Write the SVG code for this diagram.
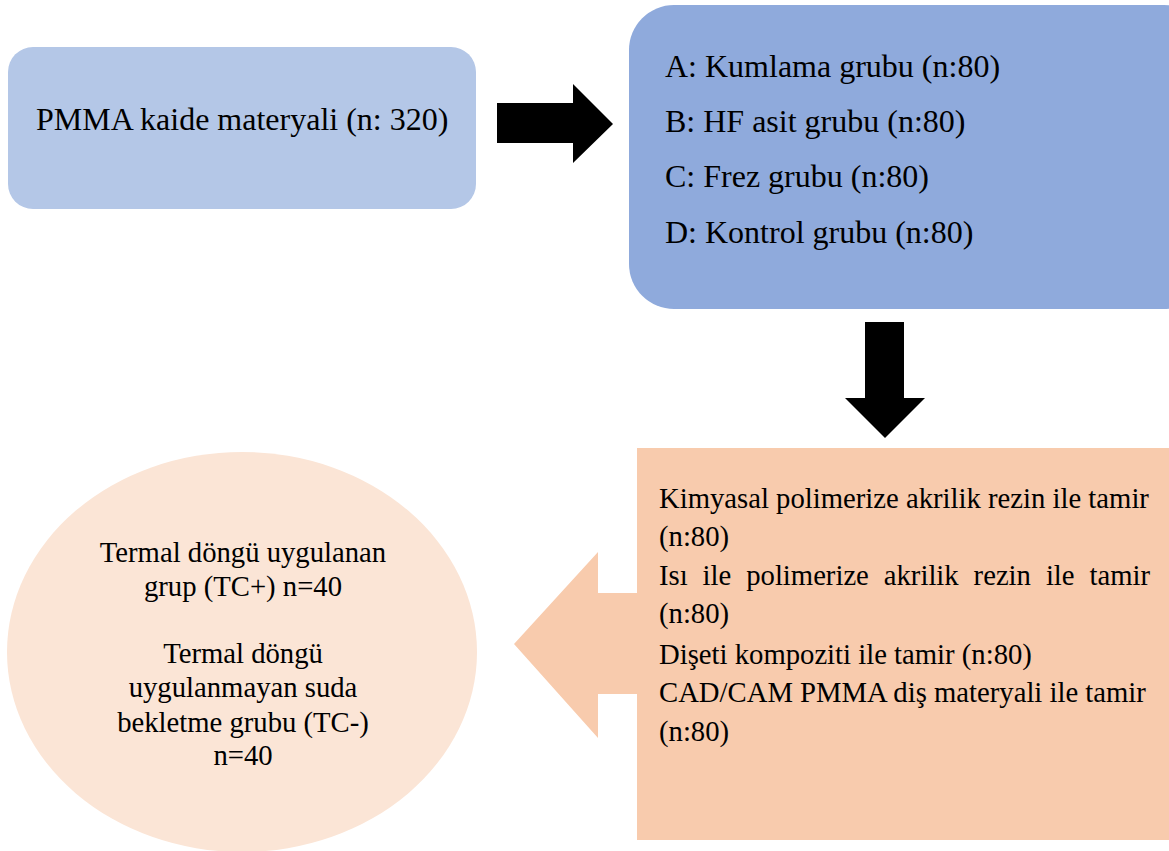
<svg xmlns="http://www.w3.org/2000/svg" width="1169" height="851" viewBox="0 0 1169 851">
<style>
text{font-family:"Liberation Serif","Times New Roman",serif;fill:#000}
.t32{font-size:32px}
.t29{font-size:28.7px}
.arrow{fill:#000}
</style>
<rect width="1169" height="851" fill="#fff"/>
<g id="connectors">
<polygon class="arrow" points="497,103 573,103 573,84 613,124 573,163 573,143 497,143"/>
<polygon class="arrow" points="865,322 904,322 904,398 925,398 885,438 845,398 865,398"/>
</g>
<g id="node-pmma">
<rect x="8" y="47" width="468" height="162" rx="25" ry="25" fill="#b4c7e7"/>
<text class="t32" x="36" y="130">PMMA kaide materyali (n: 320)</text>
</g>
<g id="node-groups">
<rect x="629" y="5" width="580" height="304" rx="45" ry="45" fill="#8faadc"/>
<text class="t32" x="665" y="77">A: Kumlama grubu (n:80)</text>
<text class="t32" x="665" y="132">B: HF asit grubu (n:80)</text>
<text class="t32" x="665" y="187">C: Frez grubu (n:80)</text>
<text class="t32" x="665" y="243">D: Kontrol grubu (n:80)</text>
</g>
<g id="node-repair">
<polygon points="637,448 1169,448 1169,840 637,840 637,694 598,694 598,738 514,644 598,552 598,593 637,593" fill="#f8cbad"/>
<text class="t29" x="659" y="508">Kimyasal polimerize akrilik rezin ile tamir</text>
<text class="t29" x="659" y="546">(n:80)</text>
<text class="t29" y="585"><tspan x="659">Isı</tspan><tspan x="702.6">ile</tspan><tspan x="746.2">polimerize</tspan><tspan x="883.8">akrilik</tspan><tspan x="973.6">rezin</tspan><tspan x="1045.9">ile</tspan><tspan x="1150" text-anchor="end">tamir</tspan></text>
<text class="t29" x="659" y="623">(n:80)</text>
<text class="t29" x="659" y="664">Dişeti kompoziti ile tamir (n:80)</text>
<text class="t29" x="659" y="702">CAD/CAM PMMA diş materyali ile tamir</text>
<text class="t29" x="659" y="741">(n:80)</text>
</g>
<g id="node-thermal">
<ellipse cx="242" cy="652" rx="235" ry="200" fill="#fbe5d6"/>
<g text-anchor="middle">
<text class="t29" x="243" y="562">Termal döngü uygulanan</text>
<text class="t29" x="243" y="596">grup (TC+) n=40</text>
<text class="t29" x="243" y="663">Termal döngü</text>
<text class="t29" x="243" y="697">uygulanmayan suda</text>
<text class="t29" x="243" y="732">bekletme grubu (TC-)</text>
<text class="t29" x="243" y="765">n=40</text>
</g>
</g>
</svg>
